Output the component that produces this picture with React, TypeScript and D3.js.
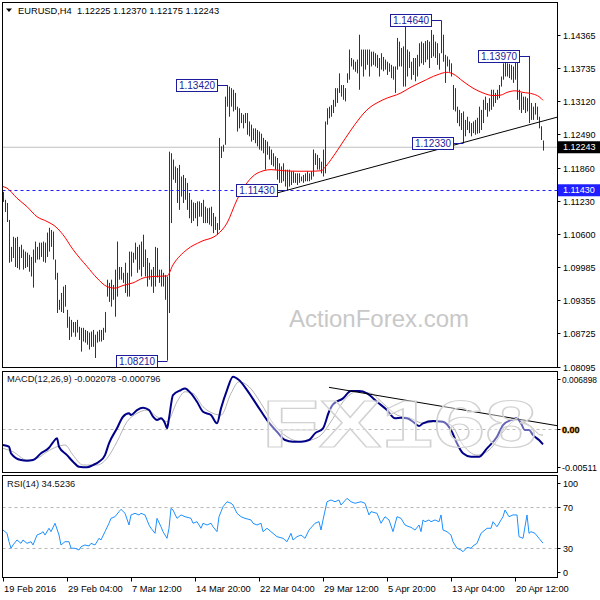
import React, { useEffect, useRef } from 'react'
import * as d3 from 'd3'

// EURUSD H4 bars (high / low per bar)
const highs = [
  1.1140, 1.1125, 1.1119, 1.1087, 1.1036, 1.1055, 1.1053, 1.1055, 1.1036, 1.1040,
  1.1031, 1.1027, 1.1025, 1.1021, 1.1017, 1.1031, 1.1046, 1.1036, 1.1044, 1.1044,
  1.1046, 1.1044, 1.1063, 1.1072, 1.1068, 1.1065, 1.1012, 1.0987, 1.0936, 1.0949,
  1.0961, 1.0964, 1.0917, 1.0904, 1.0898, 1.0894, 1.0894, 1.0898, 1.0885, 1.0883,
  1.0883, 1.0879, 1.0877, 1.0874, 1.0876, 1.0879, 1.0870, 1.0876, 1.0879, 1.0879,
  1.0883, 1.0913, 1.0974, 1.0968, 1.0974, 1.0964, 1.0993, 1.1046, 1.0998, 1.0998,
  1.0987, 1.1006, 1.0987, 1.1027, 1.1027, 1.1025, 1.1044, 1.1036, 1.1040, 1.1046,
  1.1059, 1.1031, 1.1015, 1.1006, 1.0993, 1.0998, 1.1036, 1.1034, 1.0993, 1.0993,
  1.0987, 1.0983, 1.0980, 1.1216, 1.1213, 1.1201, 1.1188, 1.1185, 1.1191, 1.1169,
  1.1172, 1.1166, 1.1157, 1.1138, 1.1125, 1.1120, 1.1119, 1.1122, 1.1122, 1.1119,
  1.1125, 1.1112, 1.1109, 1.1110, 1.1112, 1.1100, 1.1093, 1.1081, 1.1242, 1.1226,
  1.1229, 1.1320, 1.1342, 1.1339, 1.1336, 1.1333, 1.1327, 1.1301, 1.1298, 1.1289,
  1.1286, 1.1289, 1.1289, 1.1273, 1.1267, 1.1260, 1.1260, 1.1257, 1.1254, 1.1250,
  1.1242, 1.1238, 1.1235, 1.1226, 1.1220, 1.1213, 1.1207, 1.1204, 1.1194, 1.1188,
  1.1194, 1.1182, 1.1182, 1.1182, 1.1179, 1.1179, 1.1175, 1.1175, 1.1175, 1.1169,
  1.1172, 1.1175, 1.1179, 1.1175, 1.1179, 1.1220, 1.1213, 1.1210, 1.1204, 1.1197,
  1.1220, 1.1273, 1.1298, 1.1301, 1.1304, 1.1314, 1.1336, 1.1336, 1.1364, 1.1342,
  1.1342, 1.1336, 1.1364, 1.1409, 1.1393, 1.1390, 1.1386, 1.1390, 1.1437, 1.1409,
  1.1409, 1.1409, 1.1409, 1.1409, 1.1405, 1.1405, 1.1402, 1.1399, 1.1393, 1.1402,
  1.1395, 1.1390, 1.1386, 1.1383, 1.1380, 1.1377, 1.1377, 1.1431, 1.1424, 1.1412,
  1.1415, 1.1456, 1.1409, 1.1405, 1.1386, 1.1393, 1.1393, 1.1399, 1.1421, 1.1424,
  1.1421, 1.1425, 1.1427, 1.1424, 1.1446, 1.1437, 1.1424, 1.1421, 1.1402, 1.1464,
  1.1437, 1.1399, 1.1396, 1.1390, 1.1383, 1.1342, 1.1336, 1.1301, 1.1295, 1.1289,
  1.1292, 1.1276, 1.1282, 1.1273, 1.1270, 1.1273, 1.1276, 1.1280, 1.1301, 1.1295,
  1.1314, 1.1320, 1.1308, 1.1317, 1.1333, 1.1333, 1.1327, 1.1333, 1.1342, 1.1358,
  1.1383, 1.1390, 1.1383, 1.1382, 1.1380, 1.1377, 1.1386, 1.1390, 1.1333, 1.1327,
  1.1320, 1.1320, 1.1317, 1.1397, 1.1308, 1.1301, 1.1308, 1.1301, 1.1282, 1.1264,
  1.1237
]
const lows = [
  1.1121, 1.1102, 1.1083, 1.1006, 1.1008, 1.1015, 1.0998, 1.0996, 1.0993, 1.1015,
  1.0993, 1.0996, 1.0998, 1.0989, 1.0980, 1.0959, 1.1006, 1.1012, 1.1012, 1.1017,
  1.1008, 1.1006, 1.1017, 1.1027, 1.1036, 1.1012, 1.0974, 1.0911, 1.0917, 1.0913,
  1.0911, 1.0923, 1.0883, 1.0860, 1.0866, 1.0874, 1.0866, 1.0874, 1.0860, 1.0838,
  1.0857, 1.0855, 1.0851, 1.0842, 1.0847, 1.0847, 1.0826, 1.0855, 1.0857, 1.0857,
  1.0860, 1.0874, 1.0942, 1.0932, 1.0923, 1.0936, 1.0904, 1.0942, 1.0974, 1.0974,
  1.0968, 1.0949, 1.0942, 1.0942, 1.0980, 1.1006, 1.1012, 1.0987, 1.0993, 1.0980,
  1.0998, 1.0980, 1.0961, 1.0974, 1.0961, 1.0949, 1.0961, 1.0978, 1.0968, 1.0961,
  1.0961, 1.0936, 1.0821, 1.0911, 1.1081, 1.1163, 1.1157, 1.1119, 1.1106, 1.1131,
  1.1119, 1.1125, 1.1106, 1.1090, 1.1081, 1.1085, 1.1090, 1.1075, 1.1093, 1.1093,
  1.1081, 1.1081, 1.1081, 1.1078, 1.1075, 1.1062, 1.1068, 1.1059, 1.1068, 1.1204,
  1.1216, 1.1229, 1.1301, 1.1282, 1.1301, 1.1292, 1.1295, 1.1254, 1.1260, 1.1270,
  1.1260, 1.1270, 1.1248, 1.1245, 1.1235, 1.1238, 1.1232, 1.1226, 1.1220, 1.1218,
  1.1213, 1.1182, 1.1210, 1.1201, 1.1191, 1.1188, 1.1182, 1.1163, 1.1157, 1.1157,
  1.1160, 1.1150, 1.1143, 1.1150, 1.1153, 1.1157, 1.1157, 1.1153, 1.1157, 1.1160,
  1.1157, 1.1160, 1.1160, 1.1160, 1.1163, 1.1169, 1.1191, 1.1182, 1.1182, 1.1175,
  1.1169, 1.1175, 1.1267, 1.1279, 1.1282, 1.1289, 1.1301, 1.1308, 1.1327, 1.1320,
  1.1314, 1.1311, 1.1346, 1.1352, 1.1377, 1.1371, 1.1367, 1.1364, 1.1333, 1.1377,
  1.1358, 1.1371, 1.1380, 1.1358, 1.1377, 1.1380, 1.1377, 1.1374, 1.1358, 1.1371,
  1.1368, 1.1371, 1.1361, 1.1367, 1.1355, 1.1352, 1.1327, 1.1371, 1.1377, 1.1377,
  1.1339, 1.1339, 1.1358, 1.1374, 1.1352, 1.1361, 1.1349, 1.1358, 1.1377, 1.1383,
  1.1380, 1.1385, 1.1390, 1.1374, 1.1393, 1.1396, 1.1393, 1.1380, 1.1371, 1.1402,
  1.1386, 1.1346, 1.1377, 1.1367, 1.1358, 1.1295, 1.1292, 1.1270, 1.1264, 1.1257,
  1.1233, 1.1245, 1.1257, 1.1251, 1.1245, 1.1251, 1.1248, 1.1250, 1.1251, 1.1257,
  1.1270, 1.1295, 1.1282, 1.1292, 1.1295, 1.1301, 1.1308, 1.1314, 1.1317, 1.1339,
  1.1352, 1.1358, 1.1358, 1.1355, 1.1352, 1.1346, 1.1352, 1.1314, 1.1295, 1.1289,
  1.1295, 1.1289, 1.1292, 1.1270, 1.1276, 1.1276, 1.1286, 1.1276, 1.1260, 1.1238,
  1.1218
]

// red moving average, sampled along the bars
const maBars = [0, 2, 7, 12, 17, 22, 26, 30, 35, 42, 47, 52, 56, 60, 65, 70, 75, 82, 85, 92,
  99, 107, 112, 117, 122, 127, 134, 140, 147, 154, 159, 162, 164, 168, 174, 182, 190, 199,
  204, 210, 217, 222, 225, 230, 235, 240, 245, 249, 252, 256, 260, 265, 268, 270]
const maValues = [1.1150, 1.1147, 1.1128, 1.1112, 1.1093, 1.1084, 1.1075, 1.1059, 1.1031,
  1.0999, 1.0977, 1.0961, 1.0958, 1.0963, 1.0968, 1.0977, 1.0980, 1.0981, 1.1002, 1.1031,
  1.1046, 1.1059, 1.1081, 1.1125, 1.1157, 1.1175, 1.1182, 1.1180, 1.1179, 1.1179, 1.1180,
  1.1191, 1.1201, 1.1223, 1.1257, 1.1295, 1.1314, 1.1327, 1.1338, 1.1349, 1.1361, 1.1366,
  1.1363, 1.1349, 1.1336, 1.1327, 1.1322, 1.1323, 1.1328, 1.1331, 1.1328, 1.1325, 1.1320,
  1.1313]

// MACD(12,26,9) main and signal
const macdBars = [0, 3, 4, 9, 12, 15, 19, 23, 25, 27, 28, 32, 35, 38, 42, 45, 48, 51, 53, 57,
  60, 63, 64, 67, 70, 73, 75, 77, 79, 81, 82, 83, 85, 89, 91, 94, 97, 100, 104, 107, 109,
  112, 115, 118, 122, 127, 132, 137, 141, 145, 149, 153, 156, 160, 163, 165, 170, 174, 178,
  182, 187, 192, 196, 199, 202, 205, 208, 210, 215, 220, 224, 227, 230, 234, 238, 242, 247,
  250, 254, 257, 259, 261, 263, 265, 268, 270]
const macdValues = [-0.00218, -0.00241, -0.00331, -0.00423, -0.00432, -0.00423, -0.00331,
  -0.00255, -0.00181, -0.00127, -0.00241, -0.00355, -0.00446, -0.00514, -0.00522, -0.00491,
  -0.00446, -0.00355, -0.00195, 0.00010, 0.00168, 0.00214, 0.00191, 0.00259, 0.00291,
  0.00259, 0.00168, 0.00123, 0.00146, 0.00078, 0.00010, 0.00146, 0.00464, 0.00532, 0.00555,
  0.00487, 0.00372, 0.00236, 0.00191, 0.00078, 0.00282, 0.00532, 0.00713, 0.00668, 0.00532,
  0.00327, 0.00123, -0.00037, -0.00150, -0.00173, -0.00173, -0.00150, -0.00059, 0.00010,
  0.00236, 0.00337, 0.00419, 0.00518, 0.00518, 0.00487, 0.00372, 0.00259, 0.00146, 0.00154,
  0.00146, 0.00100, 0.00041, 0.00078, 0.00109, 0.00100, -0.00014, -0.00195, -0.00331,
  -0.00378, -0.00378, -0.00263, -0.00105, 0.00055, 0.00123, 0.00146, 0.00078, -0.00014,
  -0.00014, -0.00082, -0.00150, -0.00208]
const signalBars = [0, 5, 12, 17, 22, 27, 31, 35, 40, 47, 52, 57, 62, 67, 72, 77, 82, 87, 91,
  95, 100, 105, 109, 114, 118, 123, 129, 135, 142, 149, 154, 159, 165, 170, 177, 184, 190,
  197, 204, 210, 217, 224, 230, 237, 244, 250, 257, 264, 269, 270]
const signalValues = [-0.00263, -0.00310, -0.00423, -0.00400, -0.00310, -0.00241, -0.00218,
  -0.00355, -0.00491, -0.00491, -0.00400, -0.00173, 0.00100, 0.00214, 0.00259, 0.00168,
  0.00100, 0.00372, 0.00509, 0.00487, 0.00305, 0.00214, 0.00191, 0.00487, 0.00645, 0.00577,
  0.00351, 0.00078, -0.00105, -0.00173, -0.00150, -0.00082, 0.00146, 0.00372, 0.00509,
  0.00487, 0.00351, 0.00191, 0.00146, 0.00078, 0.00100, 0.00055, -0.00218, -0.00355,
  -0.00263, -0.00037, 0.00123, 0.00032, -0.00082, -0.00080]

// RSI(14)
const rsiBars = [0, 2, 3, 4, 5, 7, 9, 10, 12, 14, 15, 17, 19, 20, 21, 23, 24, 26, 28, 29, 31,
  33, 34, 36, 38, 39, 41, 43, 44, 46, 48, 49, 51, 53, 54, 56, 58, 59, 61, 63, 64, 66, 68, 69,
  71, 73, 74, 76, 77, 79, 80, 82, 83, 84, 85, 87, 89, 91, 94, 95, 97, 99, 100, 102, 104, 105,
  107, 108, 109, 110, 112, 114, 115, 117, 119, 121, 124, 125, 127, 129, 130, 132, 134, 137,
  140, 142, 144, 145, 147, 149, 151, 153, 156, 158, 159, 160, 162, 164, 166, 168, 169, 172,
  174, 176, 179, 181, 183, 184, 187, 189, 191, 193, 195, 197, 199, 201, 203, 204, 206, 208,
  209, 210, 211, 213, 214, 216, 218, 219, 220, 222, 224, 225, 227, 229, 230, 232, 234, 235,
  237, 239, 240, 242, 244, 245, 247, 249, 250, 251, 253, 255, 257, 258, 260, 262, 263, 264,
  266, 268, 270]
const rsiValues = [47.3, 44.1, 35.9, 29.5, 32.7, 37.6, 34.3, 37.6, 34.3, 35.9, 32.7, 42.4,
  44.1, 45.7, 42.4, 49.0, 45.7, 53.9, 42.4, 32.7, 35.9, 35.9, 29.5, 29.5, 27.8, 31.0, 32.7,
  31.7, 34.3, 32.7, 39.2, 37.6, 45.7, 53.9, 58.7, 60.3, 65.2, 67.5, 63.6, 52.2, 62.0, 63.6,
  62.0, 63.6, 62.0, 52.2, 49.0, 44.1, 58.7, 50.5, 45.7, 39.2, 49.0, 68.5, 66.8, 58.7, 62.0,
  60.3, 58.7, 53.9, 55.4, 49.0, 53.9, 52.2, 53.9, 50.5, 45.7, 60.3, 65.2, 70.0, 74.9, 73.4,
  71.7, 63.6, 60.3, 58.7, 57.1, 53.9, 52.2, 53.9, 45.7, 49.0, 45.7, 40.8, 39.2, 35.9, 44.1,
  37.6, 40.8, 42.4, 39.2, 47.3, 53.9, 55.4, 47.3, 57.1, 74.9, 76.6, 74.9, 76.6, 71.7, 78.2,
  74.9, 73.4, 74.9, 73.4, 62.0, 65.2, 63.6, 53.9, 60.3, 57.1, 45.7, 60.3, 58.7, 52.2, 50.5,
  50.0, 47.3, 52.2, 45.7, 57.1, 55.4, 57.1, 55.4, 57.1, 55.4, 62.0, 47.3, 45.7, 42.4, 35.9,
  29.5, 27.8, 26.1, 30.4, 29.5, 31.7, 34.3, 44.1, 45.7, 49.0, 49.0, 55.4, 50.5, 57.1, 60.3,
  66.8, 60.3, 62.0, 62.0, 40.8, 39.2, 62.0, 44.1, 45.7, 44.1, 39.2, 34.5]

const priceTicks = [1.14365, 1.13735, 1.1312, 1.1249, 1.1186, 1.1123, 1.106, 1.09985,
  1.09355, 1.08725, 1.08095]
const macdTicks = [0.006898, 0, -0.00511]
const macdTickLabels = ['0.006898', '0.00', '-0.00511']
const rsiTicks = [100, 70, 30, 0]

const dateBars = [0, 32, 64, 96, 128, 160, 192, 224, 256]
const dateLabels = ['19 Feb 2016', '29 Feb 04:00', '7 Mar 12:00', '14 Mar 20:00', '22 Mar 04:00',
  '29 Mar 12:00', '5 Apr 20:00', '13 Apr 04:00', '20 Apr 12:00']

// swing labels
const markBars = [112, 82, 142, 219, 263, 230]
const markPrices = [1.1342, 1.0821, 1.1143, 1.1464, 1.1397, 1.1233]

const trendBars = [142, 230]
const trendPrices = [1.1143, 1.1233]
const macdTrendBars = [163, 257]
const macdTrendValues = [0.00569, 0.00138]

const lastPrice = 1.12243
const supportLevel = 1.1143

const FONT = '"Liberation Sans", Arial, sans-serif'
const NAVY = '#1c1c9c'
const AXIS_FS = 9

export default function App() {
  const svgRef = useRef<SVGSVGElement>(null)

  useEffect(() => {
    if (!svgRef.current) return
    const svg = d3.select(svgRef.current)
    svg.selectAll('*').remove()

    const left = 2.5
    const right = 557.5
    const main = { top: 2.5, bottom: 367.5 }
    const mac = { top: 371.5, bottom: 472.5 }
    const rsi = { top: 475.5, bottom: 577.5 }

    const x = d3.scaleLinear().domain([0, 270]).range([3, 543])
    const yP = d3.scaleLinear().domain([1.08095, 1.14365]).range([366.7, 35])
    const yM = d3.scaleLinear().domain([-0.00511, 0.006898]).range([466.5, 378.5])
    const yR = d3.scaleLinear().domain([0, 100]).range([578.5, 476])

    const defs = svg.append('defs')
    const clip = (id: string, p: { top: number; bottom: number }) => {
      defs.append('clipPath').attr('id', id)
        .append('rect').attr('x', left).attr('y', p.top)
        .attr('width', right - left).attr('height', p.bottom - p.top)
    }
    clip('clip-main', main)
    clip('clip-macd', mac)
    clip('clip-rsi', rsi)

    svg.append('rect').attr('width', 600).attr('height', 600).attr('fill', '#fff')

    // ---------- main panel ----------
    const gm = svg.append('g').attr('clip-path', 'url(#clip-main)')

    gm.append('text')
      .attr('x', 289).attr('y', 327)
      .attr('font-family', FONT).attr('font-size', 24)
      .attr('fill', '#c8c8c8')
      .text('ActionForex.com')

    gm.append('line')
      .attr('x1', left).attr('x2', right)
      .attr('y1', yP(lastPrice)).attr('y2', yP(lastPrice))
      .attr('stroke', '#c0c0c0')

    gm.append('line')
      .attr('x1', left).attr('x2', right)
      .attr('y1', Math.round(yP(supportLevel)) + 0.5).attr('y2', Math.round(yP(supportLevel)) + 0.5)
      .attr('stroke', '#1f1fff').attr('stroke-dasharray', '3,3')

    gm.selectAll('.bar')
      .data(highs)
      .enter()
      .append('line')
      .attr('class', 'bar')
      .attr('x1', (d, i) => Math.round(x(i)) + 0.5)
      .attr('x2', (d, i) => Math.round(x(i)) + 0.5)
      .attr('y1', d => yP(d))
      .attr('y2', (d, i) => Math.max(yP(lows[i]), yP(d) + 1))
      .attr('stroke', '#173d52')
      .attr('stroke-width', 1)

    const maLine = d3.line<number>()
      .x((d, i) => x(maBars[i]))
      .y(d => yP(d))
      .curve(d3.curveMonotoneX)
    gm.append('path')
      .attr('d', maLine(maValues))
      .attr('fill', 'none')
      .attr('stroke', '#ff0000')
      .attr('stroke-width', 1)

    const slope = (trendPrices[1] - trendPrices[0]) / (trendBars[1] - trendBars[0])
    const tStart = trendBars[0] - 4.5
    const tEnd = x.invert(right)
    gm.append('line')
      .attr('x1', x(tStart)).attr('y1', yP(trendPrices[0] + (tStart - trendBars[0]) * slope))
      .attr('x2', x(tEnd)).attr('y2', yP(trendPrices[0] + (tEnd - trendBars[0]) * slope))
      .attr('stroke', '#000').attr('stroke-width', 1)

    // swing price labels
    markBars.forEach((b, i) => {
      const bx = Math.round(x(b)) + 0.5
      const cy = Math.round(yP(markPrices[i])) + 0.5
      const bw = 41
      const bh = 12
      const bxRight = bx - 10
      gm.append('line')
        .attr('x1', bxRight).attr('x2', bx)
        .attr('y1', cy).attr('y2', cy)
        .attr('stroke', NAVY)
      gm.append('rect')
        .attr('x', bxRight - bw).attr('y', cy - bh / 2)
        .attr('width', bw).attr('height', bh)
        .attr('fill', '#fff').attr('stroke', NAVY)
      gm.append('text')
        .attr('x', bxRight - bw / 2).attr('y', cy + 3.6)
        .attr('text-anchor', 'middle')
        .attr('font-family', FONT).attr('font-size', 10)
        .attr('fill', NAVY)
        .text(markPrices[i].toFixed(5))
    })

    // header
    svg.append('path').attr('d', 'M6,8.5 L12,8.5 L9,12 Z').attr('fill', '#000')
    svg.append('text')
      .attr('x', 18).attr('y', 14)
      .attr('font-family', FONT).attr('font-size', 9.3)
      .attr('fill', '#000')
      .attr('xml:space', 'preserve')
      .text('EURUSD,H4  1.12225 1.12370 1.12175 1.12243')

    // right price axis
    priceTicks.forEach(v => {
      const ty = Math.round(yP(v)) + 0.5
      svg.append('line').attr('x1', right).attr('x2', right + 3).attr('y1', ty).attr('y2', ty).attr('stroke', '#000')
      svg.append('text')
        .attr('x', 563).attr('y', ty + 3.2)
        .attr('font-family', FONT).attr('font-size', AXIS_FS).attr('fill', '#000')
        .text(v.toFixed(5))
    })
    const tag = (v: number, bg: string) => {
      const ty = yP(v)
      svg.append('rect').attr('x', 558).attr('y', ty - 6).attr('width', 42).attr('height', 12).attr('fill', bg)
      svg.append('text')
        .attr('x', 563).attr('y', ty + 3.2)
        .attr('font-family', FONT).attr('font-size', AXIS_FS).attr('fill', '#fff')
        .text(v.toFixed(5))
    }
    tag(lastPrice, '#000')
    tag(supportLevel, '#1f1fff')

    // ---------- MACD panel ----------
    const gc = svg.append('g').attr('clip-path', 'url(#clip-macd)')
    gc.append('line')
      .attr('x1', left).attr('x2', right)
      .attr('y1', Math.round(yM(0)) + 0.5).attr('y2', Math.round(yM(0)) + 0.5)
      .attr('stroke', '#b8b8b8').attr('stroke-dasharray', '3,3')

    const sigLine = d3.line<number>()
      .x((d, i) => x(signalBars[i]))
      .y(d => yM(d))
      .curve(d3.curveMonotoneX)
    gc.append('path')
      .attr('d', sigLine(signalValues))
      .attr('fill', 'none').attr('stroke', '#b4b4b4').attr('stroke-width', 1)

    const macdLine = d3.line<number>()
      .x((d, i) => x(macdBars[i]))
      .y(d => yM(d))
      .curve(d3.curveMonotoneX)
    gc.append('path')
      .attr('d', macdLine(macdValues))
      .attr('fill', 'none').attr('stroke', '#000088').attr('stroke-width', 2)

    const mSlope = (macdTrendValues[1] - macdTrendValues[0]) / (macdTrendBars[1] - macdTrendBars[0])
    const mEnd = x.invert(right)
    gc.append('line')
      .attr('x1', x(macdTrendBars[0])).attr('y1', yM(macdTrendValues[0]))
      .attr('x2', x(mEnd)).attr('y2', yM(macdTrendValues[0] + (mEnd - macdTrendBars[0]) * mSlope))
      .attr('stroke', '#000').attr('stroke-width', 1)

    // faint logo over the oscillator
    gc.append('text')
      .attr('x', 262).attr('y', 447)
      .attr('font-family', FONT).attr('font-size', 66).attr('font-weight', 'bold')
      .attr('textLength', 275).attr('lengthAdjust', 'spacingAndGlyphs')
      .attr('fill', '#ffffff').attr('fill-opacity', 0.4)
      .attr('stroke', '#d2d2d2').attr('stroke-width', 1.2)
      .text('FX168')

    svg.append('text')
      .attr('x', 7).attr('y', 382)
      .attr('font-family', FONT).attr('font-size', 9.3).attr('fill', '#111')
      .text('MACD(12,26,9) -0.002078 -0.000796')

    macdTicks.forEach((v, i) => {
      const ty = Math.round(yM(v)) + 0.5
      svg.append('line').attr('x1', right).attr('x2', right + 3).attr('y1', ty).attr('y2', ty).attr('stroke', '#000')
      const label = svg.append('text')
        .attr('x', 562).attr('y', ty + 3.2)
        .attr('font-family', FONT).attr('font-size', AXIS_FS).attr('fill', '#000')
        .attr('textLength', macdTickLabels[i].length > 6 ? 35 : null)
        .attr('lengthAdjust', 'spacingAndGlyphs')
        .text(macdTickLabels[i])
      if (v === 0) {
        // zero level label has an orange halo in the original
        label.attr('stroke', '#eea848').attr('stroke-width', 1.1)
          .attr('paint-order', 'stroke').attr('font-weight', 'bold')
      }
    })

    // ---------- RSI panel ----------
    const gr = svg.append('g').attr('clip-path', 'url(#clip-rsi)')
    ;[70, 30].forEach(v => {
      gr.append('line')
        .attr('x1', left).attr('x2', right)
        .attr('y1', Math.round(yR(v)) + 0.5).attr('y2', Math.round(yR(v)) + 0.5)
        .attr('stroke', '#b8b8b8').attr('stroke-dasharray', '3,3')
    })
    const rsiLine = d3.line<number>()
      .x((d, i) => x(rsiBars[i]))
      .y(d => yR(d))
    gr.append('path')
      .attr('d', rsiLine(rsiValues))
      .attr('fill', 'none').attr('stroke', '#1e90ff').attr('stroke-width', 1)

    svg.append('text')
      .attr('x', 7).attr('y', 487)
      .attr('font-family', FONT).attr('font-size', 9.3).attr('fill', '#111')
      .text('RSI(14) 34.5236')

    rsiTicks.forEach(v => {
      const ty = Math.round(Math.min(Math.max(yR(v), rsi.top + 7), rsi.bottom - 6)) + 0.5
      svg.append('line').attr('x1', right).attr('x2', right + 3).attr('y1', ty).attr('y2', ty).attr('stroke', '#000')
      svg.append('text')
        .attr('x', 563).attr('y', ty + 3.2)
        .attr('font-family', FONT).attr('font-size', AXIS_FS).attr('fill', '#000')
        .text(String(v))
    })

    // ---------- time axis ----------
    dateBars.forEach((b, i) => {
      const tx = Math.round(x(b)) + 0.5
      svg.append('line').attr('x1', tx).attr('x2', tx).attr('y1', rsi.bottom).attr('y2', rsi.bottom + 4).attr('stroke', '#000')
      svg.append('text')
        .attr('x', tx + 0.5).attr('y', 592)
        .attr('font-family', FONT).attr('font-size', 9.3).attr('fill', '#000')
        .text(dateLabels[i])
    })

    // panel frames
    ;[main, mac, rsi].forEach(p => {
      svg.append('rect')
        .attr('x', left).attr('y', p.top)
        .attr('width', right - left).attr('height', p.bottom - p.top)
        .attr('fill', 'none').attr('stroke', '#000')
    })
  }, [])

  return (
    <svg
      ref={svgRef}
      width={600}
      height={600}
      style={{ position: 'absolute', left: 0, top: 0, display: 'block' }}
    />
  )
}
